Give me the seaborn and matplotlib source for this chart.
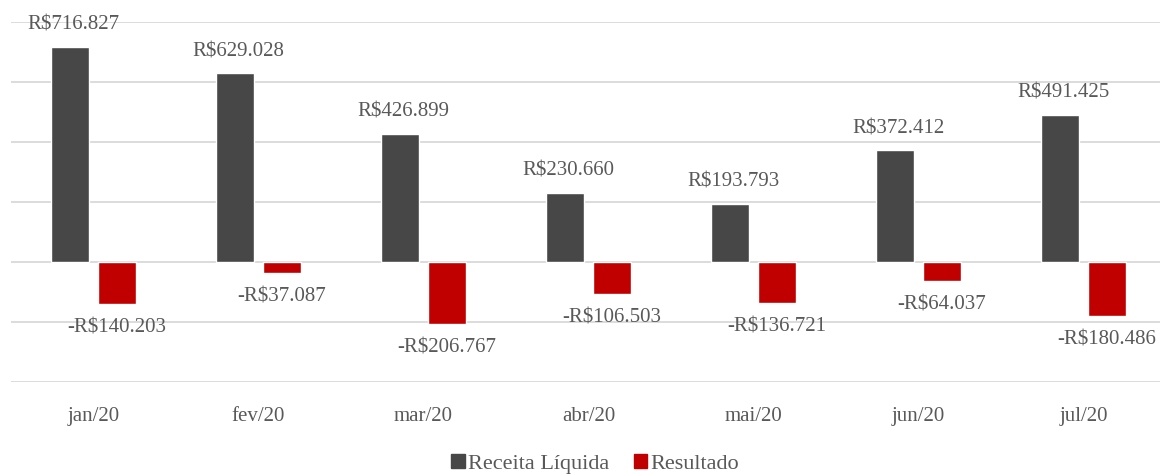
import numpy as np
import pandas as pd
import matplotlib
matplotlib.use("Agg")
import matplotlib.pyplot as plt
import seaborn as sns

# dados
meses = ['jan/20', 'fev/20', 'mar/20', 'abr/20', 'mai/20', 'jun/20', 'jul/20']
receita = [716827, 629028, 426899, 230660, 193793, 372412, 491425]
resultado = [-140203, -37087, -206767, -106503, -136721, -64037, -180486]
series = ['Receita Líquida', 'Resultado']
cores = ['#474747', '#C00000']

df = pd.DataFrame({
    'mes': meses * 2,
    'serie': [series[0]] * len(meses) + [series[1]] * len(meses),
    'valor': receita + resultado,
})

sns.set_style("white")
plt.rcParams['font.family'] = ['Liberation Serif', 'DejaVu Serif']
texto = '#595959'

fig = plt.figure(figsize=(11.6, 4.75), dpi=100)
ax = fig.add_axes([11 / 1160, 1 - 382 / 475, 1 - 11 / 1160, 360 / 475])

sns.barplot(data=df, x='mes', y='valor', hue='serie', hue_order=series,
            palette=cores, width=0.57, gap=0.21, saturation=1, ax=ax,
            legend=False, errorbar=None)

def fmt(v):
    s = 'R$' + f'{abs(v):,}'.replace(',', '.')
    return '-' + s if v < 0 else s

for i, (r, s) in enumerate(zip(receita, resultado)):
    ax.text(i - 0.12, r + 40000, fmt(r), ha='center', va='bottom',
            fontsize=15, color=texto)
    ax.text(i + 0.14, s - 48000, fmt(s), ha='center', va='top',
            fontsize=15, color=texto)

ax.set_ylim(-400000, 800000)
ax.set_xlim(-0.5, 6.5 - 6 / 165)
ax.set_yticks(np.arange(-400000, 800001, 200000))
ax.set_yticklabels([])
ax.yaxis.grid(True, color='#D9D9D9', linewidth=1.3)
ax.set_axisbelow(True)
for sp in ax.spines.values():
    sp.set_visible(False)
ax.tick_params(axis='x', length=0, labelsize=15, labelcolor=texto, pad=18)
ax.tick_params(axis='y', length=0)
ax.set_xlabel('')
ax.set_ylabel('')

handles = [plt.Rectangle((0, 0), 1, 1, color=c) for c in cores]
fig.legend(handles, series, loc='lower center', bbox_to_anchor=(0.513, -0.04),
           ncol=2, frameon=False, fontsize=16, handlelength=0.6,
           handleheight=0.6, handletextpad=0.15, columnspacing=1.1,
           labelcolor=texto)

fig.savefig('out.png', dpi=100)
